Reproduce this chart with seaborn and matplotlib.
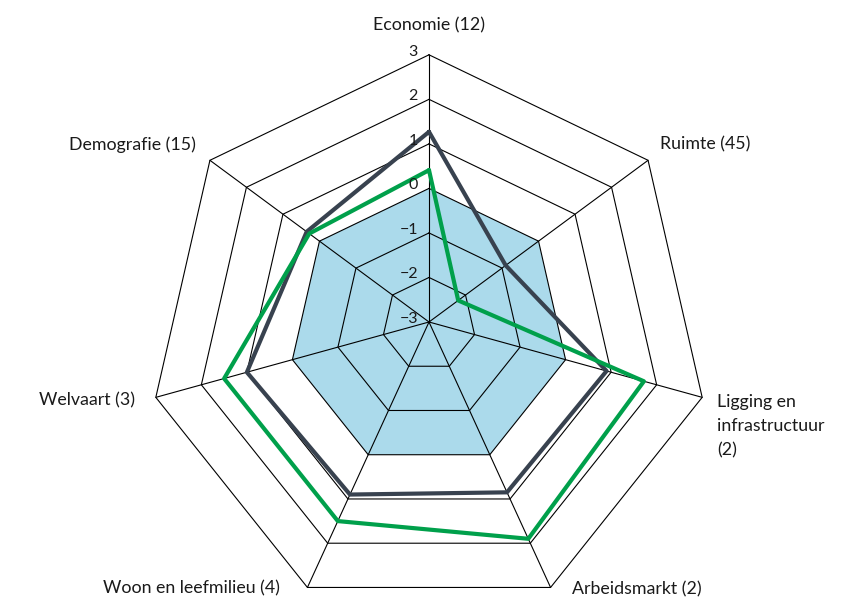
import numpy as np
import pandas as pd
import matplotlib
matplotlib.use("Agg")
import matplotlib.pyplot as plt
import seaborn as sns

# ---- data -------------------------------------------------------------
categories = [
    "Economie (12)",
    "Ruimte (45)",
    "Ligging en\ninfrastructuur\n(2)",
    "Arbeidsmarkt (2)",
    "Woon en leefmilieu (4)",
    "Welvaart (3)",
    "Demografie (15)",
]
series_dark = [1.27, -0.90, 0.90, 0.85, 0.90, 1.00, 0.35]
series_green = [0.41, -2.20, 1.72, 1.90, 1.50, 1.50, 0.28]
ticks = [-3, -2, -1, 0, 1, 2, 3]
tick_labels = ["\u22123", "\u22122", "\u22121", "0", "1", "2", "3"]
baseline = 0

# ---- style ------------------------------------------------------------
sns.set_theme(style="white")
plt.rcParams["font.family"] = ["Lato", "DejaVu Sans"]

W, H = 852, 599
CX, CY = 429, 322          # pixel position of the radar centre
UNIT = 46.7                # pixels per radial unit
SHIFT = 0.0464             # slight vertical skew of the reference grid
R_MIN, R_MAX = ticks[0], ticks[-1]
N = len(categories)
DARK = "#38424f"
GREEN = "#00a04b"
FILL = "#abdaeb"


def to_xy(value, idx):
    r = value - R_MIN
    th = 2 * np.pi * idx / N
    return r * np.sin(th), r * np.cos(th) - SHIFT * r


fig = plt.figure(figsize=(W / 100, H / 100), dpi=100)
ax = fig.add_axes([0, 0, 1, 1])
ax.set_xlim(-CX / UNIT, (W - CX) / UNIT)
ax.set_ylim(-(H - CY) / UNIT, CY / UNIT)
ax.axis("off")

# blue area up to the baseline ring
fx, fy = zip(*[to_xy(baseline, i) for i in range(N)])
ax.fill(fx, fy, color=FILL, zorder=1, lw=0)

# rings
for v in ticks[1:]:
    pts = [to_xy(v, i) for i in range(N + 1)]
    xs, ys = zip(*pts)
    ax.plot(xs, ys, color="black", lw=0.8, zorder=2)
# spokes
for i in range(N):
    x0, y0 = to_xy(R_MIN, i)
    x1, y1 = to_xy(R_MAX, i)
    ax.plot([x0, x1], [y0, y1], color="black", lw=0.8, zorder=2)

# series
rows = []
for name, vals in [("dark", series_dark), ("green", series_green)]:
    for k in range(N + 1):
        x, y = to_xy(vals[k % N], k % N)
        rows.append({"series": name, "order": k, "x": x, "y": y})
df = pd.DataFrame(rows)
sns.lineplot(data=df, x="x", y="y", hue="series", units="series",
             estimator=None, sort=False, palette={"dark": DARK, "green": GREEN},
             lw=3.0, legend=False, ax=ax, zorder=4)

# tick labels along the top spoke
for v, lab in zip(ticks, tick_labels):
    ax.annotate(lab, xy=to_xy(v, 0), xytext=(-11, 3), textcoords="offset pixels",
                ha="right", va="center", fontsize=11.5, color="#1a1a1a", zorder=5)

# category labels
label_pos = [
    ((0, 29), "center", "center"),
    ((12, 16), "left", "center"),
    ((15, 3), "left", "top"),
    ((21, -2), "left", "center"),
    ((-28, -1), "right", "center"),
    ((-21, -3), "right", "center"),
    ((-14, 16), "right", "center"),
]
for i, (lab, (off, ha, va)) in enumerate(zip(categories, label_pos)):
    ax.annotate(lab, xy=to_xy(R_MAX, i), xytext=off, textcoords="offset pixels",
                ha=ha, va=va, fontsize=12.8, color="#1a1a1a", linespacing=1.62)

fig.savefig("out.png", dpi=100)
